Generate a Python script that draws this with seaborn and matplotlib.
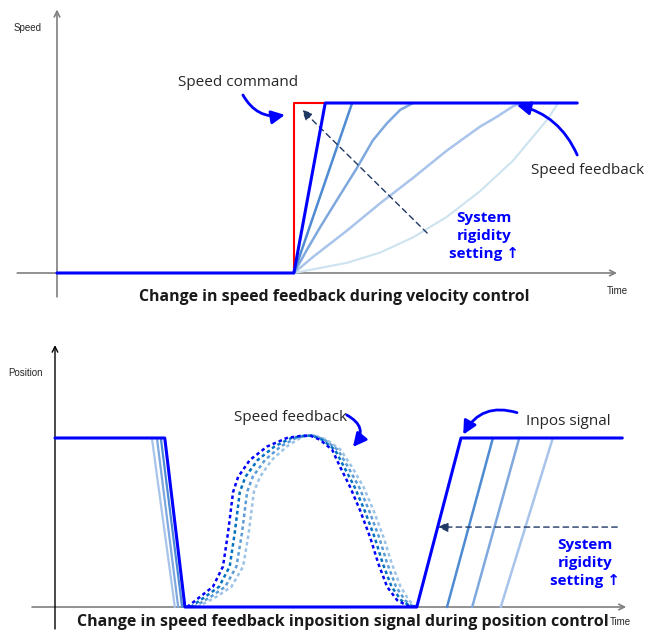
import numpy as np
import pandas as pd
import matplotlib
matplotlib.use("Agg")
import matplotlib.pyplot as plt
import seaborn as sns

sns.set_style("white")
plt.rcParams['font.family'] = ['Open Sans', 'DejaVu Sans']

# ---------------- Data: velocity control (time, speed) ----------------
cmd_t = [4.23, 4.23, 4.79]
cmd_s = [0.0, 1.0, 1.0]

main_t = [0.0, 4.23, 4.79, 9.29]
main_s = [0.0, 0.0, 1.0, 1.0]

fb2_t = [4.23, 5.27]
fb2_s = [0.0, 1.0]
fb3_t = [4.23, 4.46, 4.70, 5.00, 5.36, 5.64, 5.89, 6.13, 6.36]
fb3_s = [0.0, 0.135, 0.27, 0.43, 0.62, 0.78, 0.88, 0.96, 1.0]
fb4_t = [4.23, 4.57, 5.18, 5.77, 6.36, 6.96, 7.55, 7.86, 8.14, 8.27]
fb4_s = [0.0, 0.094, 0.25, 0.41, 0.56, 0.72, 0.86, 0.92, 0.98, 1.0]
fb5_t = [4.23, 5.18, 5.77, 6.36, 6.96, 7.55, 8.14, 8.75, 8.93]
fb5_s = [0.0, 0.06, 0.12, 0.21, 0.33, 0.48, 0.66, 0.90, 0.99]

# ---------------- Data: position control (time, position) ----------------
pos_t = [0.0, 1.96, 2.32, 6.46, 7.25, 10.13]
pos_p = [1.0, 1.0, 0.0, 0.0, 1.0, 1.0]

drop_start = [1.89, 1.82, 1.73]
drop_end = [2.27, 2.20, 2.14]

inpos_start = [7.00, 7.45, 7.96]
inpos_end = [7.82, 8.29, 8.89]

rise_p = [0.0, 0.06, 0.12, 0.24, 0.44, 0.68, 0.77, 0.87, 0.95, 1.0, 1.012]
peak_p = 1.015
fall_p = [0.99, 0.93, 0.83, 0.71, 0.57, 0.41, 0.26, 0.12, 0.04, 0.006, 0.0]

dash1_rise = [2.36, 2.59, 2.82, 3.00, 3.09, 3.18, 3.27, 3.48, 3.79, 4.14, 4.375]
dash2_rise = [2.42, 2.68, 2.93, 3.12, 3.21, 3.30, 3.40, 3.62, 3.92, 4.22, 4.42]
dash3_rise = [2.48, 2.78, 3.04, 3.24, 3.34, 3.43, 3.53, 3.75, 4.03, 4.30, 4.46]
dash4_rise = [2.54, 2.88, 3.15, 3.36, 3.46, 3.55, 3.66, 3.87, 4.14, 4.38, 4.50]
dash_peak = [4.55, 4.58, 4.61, 4.64]
dash1_fall = [4.73, 4.95, 5.09, 5.27, 5.45, 5.63, 5.77, 5.93, 6.11, 6.30, 6.46]
dash2_fall = [4.77, 5.00, 5.16, 5.35, 5.53, 5.71, 5.85, 6.01, 6.18, 6.34, 6.46]
dash3_fall = [4.81, 5.05, 5.23, 5.43, 5.61, 5.79, 5.93, 6.09, 6.25, 6.38, 6.46]
dash4_fall = [4.85, 5.10, 5.30, 5.51, 5.69, 5.87, 6.01, 6.17, 6.32, 6.42, 6.48]

BLUE = "#0000ff"
NAVY = "#1f3864"
GRAY = "#7f7f7f"
shades = ["#4f8bd3", "#7ea8de", "#a9c4ea", "#cde3f0"]
dash_colors = ["#0000ff", "#0070c0", "#5b9bd5", "#9dc3e6"]


def line(ax, x, y, color, lw, ls="-", z=2):
    sns.lineplot(x=x, y=y, ax=ax, color=color, linewidth=lw, linestyle=ls,
                 sort=False, estimator=None, zorder=z)


def arrow(ax, start, end, color, lw, style="->", rad=0.0, ls="-", z=3):
    ax.annotate("", xy=end, xytext=start,
                arrowprops=dict(arrowstyle=style, color=color, lw=lw, linestyle=ls,
                                shrinkA=0, shrinkB=0,
                                connectionstyle=f"arc3,rad={rad}"), zorder=z)


fig = plt.figure(figsize=(6.48, 6.33), dpi=100)

# ---------------- Top chart ----------------
ax1 = fig.add_axes([0, 1 - 310 / 633, 1, 310 / 633])
ax1.set_xlim(-57 / 56, 591 / 56)
ax1.set_ylim(-37 / 170, 273 / 170)
ax1.set_axis_off()

arrow(ax1, (-0.71, 0), (10.0, 0), GRAY, 1.2, z=1)
arrow(ax1, (0, -0.14), (0, 1.55), GRAY, 1.2, z=1)

line(ax1, fb5_t, fb5_s, shades[3], 1.5)
line(ax1, fb4_t, fb4_s, shades[2], 1.8)
line(ax1, fb3_t, fb3_s, shades[1], 1.8)
line(ax1, fb2_t, fb2_s, shades[0], 1.8)
line(ax1, cmd_t, cmd_s, "#ff0000", 1.5)
line(ax1, main_t, main_s, BLUE, 2.2, z=4)

arrow(ax1, (6.61, 0.235), (4.375, 0.96), NAVY, 1.0, style="-|>,head_length=0.6,head_width=0.3", ls=(0, (4, 3)))

ax1.text(-0.52, 1.44, "Speed", fontsize=7, family=["Liberation Sans"], ha="center", va="center")
ax1.text(10.0, -0.106, "Time", fontsize=7, family=["Liberation Sans"], ha="center", va="center")
ax1.text(3.23, 1.118, "Speed command", fontsize=11, ha="center", va="center")
arrow(ax1, (3.32, 1.047), (4.07, 0.93), BLUE, 2.0, style="-|>,head_length=0.8,head_width=0.4", rad=0.35)
ax1.text(9.48, 0.6, "Speed feedback", fontsize=11, ha="center", va="center")
arrow(ax1, (9.29, 0.694), (8.21, 0.988), BLUE, 2.0, style="-|>,head_length=0.8,head_width=0.4", rad=0.25)
ax1.text(7.62, 0.218, "System\nrigidity\nsetting \u2191", fontsize=11, fontweight="bold",
         color=BLUE, ha="center", va="center", linespacing=1.35)
ax1.text(4.95, -0.141, "Change in speed feedback during velocity control", fontsize=11.4,
         fontweight="bold", ha="center", va="center", color="#1a1a1a")

# ---------------- Bottom chart ----------------
ax2 = fig.add_axes([0, 0, 1, 313 / 633])
ax2.set_xlim(-55 / 56, 593 / 56)
ax2.set_ylim(-26 / 169, 287 / 169)
ax2.set_axis_off()

arrow(ax2, (-0.41, 0), (10.2, 0), GRAY, 1.2, z=1)
arrow(ax2, (0, -0.13), (0, 1.55), "#000000", 1.0, z=1)

drop_colors = [shades[0], shades[1], shades[2]]
for s0, s1, c in zip(drop_start[::-1], drop_end[::-1], drop_colors[::-1]):
    line(ax2, [s0, s1], [1.0, 0.0], c, 1.6)

for s0, s1, c in zip(inpos_start, inpos_end, [shades[0], shades[1], shades[2]]):
    line(ax2, [s0, s1], [0.0, 1.0], c, 1.8)

rises = [dash1_rise, dash2_rise, dash3_rise, dash4_rise]
falls = [dash1_fall, dash2_fall, dash3_fall, dash4_fall]
for i in range(3, -1, -1):
    xs = rises[i] + [dash_peak[i]] + falls[i]
    ys = rise_p + [peak_p] + fall_p
    line(ax2, xs, ys, dash_colors[i], 1.8, ls=(0, (1.4, 1.2)), z=3)

line(ax2, pos_t, pos_p, BLUE, 2.2, z=4)

arrow(ax2, (10.04, 0.473), (6.84, 0.473), NAVY, 1.0, style="-|>,head_length=0.6,head_width=0.3", ls=(0, (4, 3)))

ax2.text(-0.52, 1.385, "Position", fontsize=7, family=["Liberation Sans"], ha="center", va="center")
ax2.text(10.09, -0.089, "Time", fontsize=7, family=["Liberation Sans"], ha="center", va="center")
ax2.text(4.21, 1.124, "Speed feedback", fontsize=11, ha="center", va="center")
arrow(ax2, (5.21, 1.136), (5.32, 0.947), BLUE, 2.0, style="-|>,head_length=0.8,head_width=0.4", rad=-0.6)
ax2.text(9.16, 1.10, "Inpos signal", fontsize=11, ha="center", va="center")
arrow(ax2, (8.25, 1.15), (7.29, 1.02), BLUE, 2.0, style="-|>,head_length=0.8,head_width=0.4", rad=0.4)
ax2.text(9.46, 0.26, "System\nrigidity\nsetting \u2191", fontsize=11, fontweight="bold",
         color=BLUE, ha="center", va="center", linespacing=1.35)
ax2.text(5.14, -0.089, "Change in speed feedback inposition signal during position control",
         fontsize=11.5, fontweight="bold", ha="center", va="center", color="#1a1a1a")

fig.savefig("out.png", dpi=100)
